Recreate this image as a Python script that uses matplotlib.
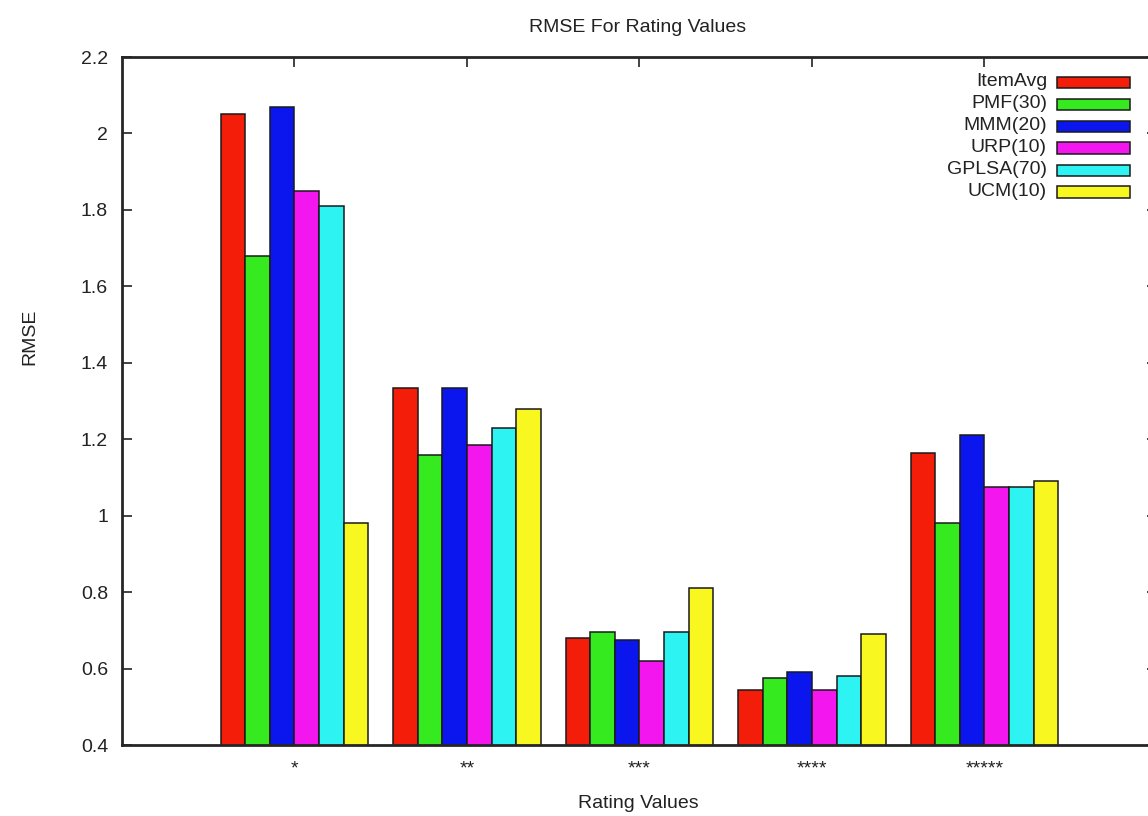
import matplotlib
matplotlib.use("Agg")
import matplotlib.pyplot as plt
from matplotlib.patches import Rectangle
import numpy as np

plt.rcParams['font.family'] = ['Liberation Sans', 'DejaVu Sans']

# ---- data -------------------------------------------------------------
categories = ['*', '**', '***', '****', '*****']
methods = ['ItemAvg', 'PMF(30)', 'MMM(20)', 'URP(10)', 'GPLSA(70)', 'UCM(10)']

item_avg = [2.05, 1.335, 0.68, 0.545, 1.165]
pmf_30 = [1.68, 1.16, 0.695, 0.575, 0.98]
mmm_20 = [2.07, 1.335, 0.675, 0.59, 1.21]
urp_10 = [1.85, 1.185, 0.62, 0.545, 1.075]
gplsa_70 = [1.81, 1.23, 0.695, 0.58, 1.075]
ucm_10 = [0.98, 1.28, 0.81, 0.69, 1.09]

series = [item_avg, pmf_30, mmm_20, urp_10, gplsa_70, ucm_10]
colors = ['#f41d0a', '#36ea20', '#0b16ef', '#f316ef', '#2ef3f3', '#f8f820']

yticks = [0.4, 0.6, 0.8, 1.0, 1.2, 1.4, 1.6, 1.8, 2.0, 2.2]

FS = 14
TXT = '#222222'

# ---- figure -------------------------------------------------------------
W, H = 1148, 816
fig = plt.figure(figsize=(W / 100, H / 100), dpi=100)


def fx(px):
    return px / W


def fy(py):
    return 1 - py / H


# plot area (right border lies just past the canvas edge)
left, right, top, bottom = 122, 1157, 57, 745
ax = fig.add_axes([fx(left), fy(bottom), fx(right - left), fy(top) - fy(bottom)])

n = len(series)
width = 1.0 / (n + 1)
x = np.arange(len(categories))
for i, (vals, col) in enumerate(zip(series, colors)):
    ax.bar(x + (i - (n - 1) / 2) * width, vals, width=width, color=col,
           edgecolor='#1a1a1a', linewidth=1.1, zorder=3)

ax.set_xlim(-1, 5)
ax.set_ylim(0.4, 2.2)
ax.set_yticks(yticks)
ax.set_yticklabels(['%g' % v for v in yticks])
ax.set_xticks(x)
ax.set_xticklabels(categories)

for sp in ax.spines.values():
    sp.set_linewidth(2.0)
    sp.set_color('#262626')
    sp.set_zorder(5)

ax.tick_params(axis='y', direction='in', length=7, width=1.2, left=True,
               right=True, labelsize=FS, pad=10, colors=TXT)
ax.tick_params(axis='x', direction='in', length=7, width=1.2, bottom=False,
               top=True, labelsize=FS, pad=11, colors=TXT)

fig.text(fx(638), fy(28), 'RMSE For Rating Values', ha='center',
         va='center', fontsize=FS, color=TXT)
fig.text(fx(638), fy(803), 'Rating Values', ha='center', va='center',
         fontsize=FS, color=TXT)
fig.text(fx(30), fy(337), 'RMSE', ha='center', va='center', rotation=90,
         fontsize=FS, color=TXT)

# ---- key (labels right-aligned, sample boxes to their right) -----------
row0, step = 82, 22
for k, (name, col) in enumerate(zip(methods, colors)):
    yc = row0 + k * step
    fig.text(fx(1047), fy(yc), name, ha='right', va='center',
             fontsize=FS, color=TXT)
    fig.patches.append(Rectangle((fx(1057), fy(yc + 5.5)), fx(73),
                                 fy(yc - 5.5) - fy(yc + 5.5),
                                 transform=fig.transFigure, facecolor=col,
                                 edgecolor='#1a1a1a', linewidth=1.1))

fig.savefig('out.png', dpi=100)
